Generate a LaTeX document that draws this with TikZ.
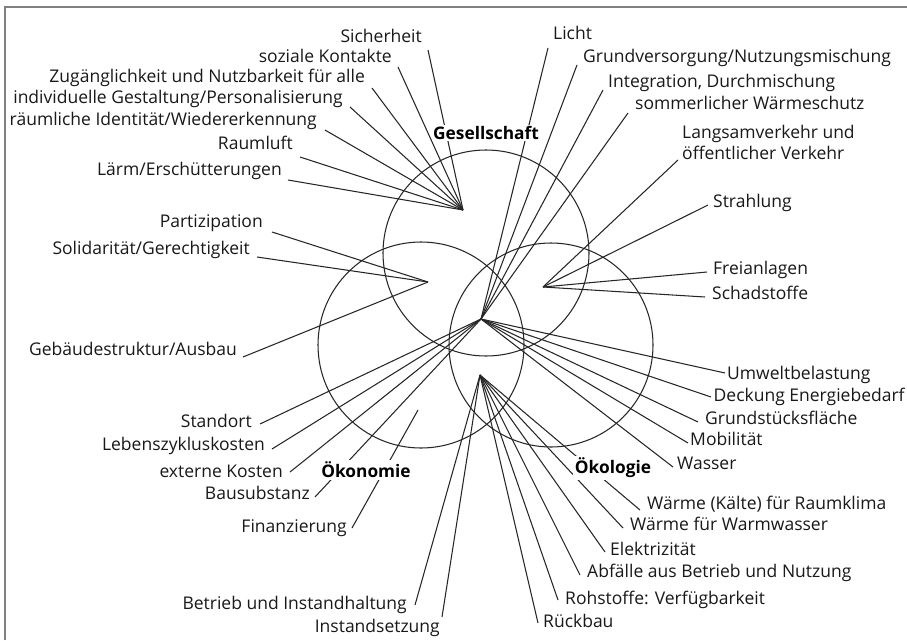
\documentclass[tikz,border=0pt]{standalone}
\usepackage{fontspec}
\newfontfamily\labfont{Open Sans}
\tikzset{
  lab/.style={font=\labfont\fontsize{17.5}{20}\selectfont, inner sep=0pt, text=black!90},
  labl/.style={lab, anchor=mid east},
  labr/.style={lab, anchor=mid west},
  head/.style={font=\labfont\bfseries\fontsize{17.3}{20}\selectfont, inner sep=1.5pt, fill=white},
  ray/.style={line width=1.05pt, black!85},
  ring/.style={line width=1.05pt, black!85},
  frame/.style={line width=2.2pt, black!50}
}
\begin{document}
\begin{tikzpicture}[x=1pt,y=-1pt]
\useasboundingbox (0,0) rectangle (907,640);
\fill[white] (0,0) rectangle (907,640);
\draw[frame] (5,640) -- (5,7) -- (907,7);
% circles
\draw[ring] (486,253) circle (103);
\draw[ring] (421,345) circle (103);
\draw[ring] (551,345) circle (102);
% hubs
\coordinate (hG) at (463,210);
\coordinate (hL) at (428,282);
\coordinate (hR) at (543,287);
\coordinate (hC) at (481,319);
\coordinate (hB) at (480,375);
\coordinate (finE) at (418,410);
% line start points
\coordinate (sichP) at (428,50);
\coordinate (sozP) at (398,67);
\coordinate (zugP) at (372,88);
\coordinate (indP) at (350,107);
\coordinate (rauP) at (325,130);
\coordinate (luftP) at (300,157);
\coordinate (laermP) at (288,180);
\coordinate (partP) at (272,232);
\coordinate (soliP) at (257,257);
\coordinate (gebP) at (243,357);
\coordinate (standP) at (260,424);
\coordinate (lebP) at (272,449);
\coordinate (extP) at (290,472);
\coordinate (bausP) at (315,497);
\coordinate (finP) at (352,528);
\coordinate (betrP) at (415,605);
\coordinate (instP) at (442,617);
\coordinate (lichtP) at (548,48);
\coordinate (grundP) at (577,65);
\coordinate (integP) at (603,90);
\coordinate (sommP) at (628,113);
\coordinate (langsP) at (678,160);
\coordinate (strahlP) at (708,205);
\coordinate (freiP) at (707,272);
\coordinate (schadP) at (705,297);
\coordinate (umwP) at (725,373);
\coordinate (deckP) at (711,397);
\coordinate (grstP) at (698,422);
\coordinate (mobP) at (688,443);
\coordinate (wassP) at (673,467);
\coordinate (wkP) at (640,510);
\coordinate (wwP) at (623,528);
\coordinate (elekP) at (605,552);
\coordinate (abfP) at (580,575);
\coordinate (rohP) at (558,600);
\coordinate (rueckP) at (538,623);
% rays
\foreach \p in {sichP,sozP,zugP,indP,rauP,luftP,laermP} \draw[ray] (\p) -- (hG);
\foreach \p in {partP,soliP,gebP} \draw[ray] (\p) -- (hL);
\foreach \p in {langsP,strahlP,freiP,schadP} \draw[ray] (\p) -- (hR);
\foreach \p in {standP,lebP,extP,bausP,lichtP,grundP,integP,sommP,umwP,deckP,grstP,mobP,wassP} \draw[ray] (\p) -- (hC);
\foreach \p in {betrP,instP,wkP,wwP,elekP,abfP,rohP,rueckP} \draw[ray] (\p) -- (hB);
\draw[ray] (finP) -- (finE);
% headings
\node[head] (ges) at (486,133) {Gesellschaft};
\node[head] (oekon) at (366,470) {Ökonomie};
\node[head] (oekol) at (613,468) {Ökologie};
% left labels
\node[labl] (sich) at (422,40) {Sicherheit};
\node[labl] (soz) at (392,60) {soziale Kontakte};
\node[labl] (zug) at (365,80) {Zugänglichkeit und Nutzbarkeit für alle};
\node[labl] (ind) at (343,101) {individuelle Gestaltung/Personalisierung};
\node[labl] (rau) at (317,123) {räumliche Identität/Wiedererkennung};
\node[labl] (luft) at (293,147) {Raumluft};
\node[labl] (laerm) at (282,173) {Lärm/Erschütterungen};
\node[labl] (part) at (263,225) {Partizipation};
\node[labl] (soli) at (250,252) {Solidarität/Gerechtigkeit};
\node[labl] (geb) at (237,353) {Gebäudestruktur/Ausbau};
\node[labl] (stand) at (252,425) {Standort};
\node[labl] (leb) at (265,448) {Lebenszykluskosten};
\node[labl] (ext) at (283,475) {externe Kosten};
\node[labl] (baus) at (310,497) {Bausubstanz};
\node[labl] (fin) at (347,530) {Finanzierung};
\node[labl] (betr) at (407,607) {Betrieb und Instandhaltung};
\node[labl] (inst) at (440,630) {Instandsetzung};
% right labels
\node[labr] (licht) at (553,37) {Licht};
\node[labr] (grund) at (583,60) {Grundversorgung/Nutzungsmischung};
\node[labr] (integ) at (608,85) {Integration, Durchmischung};
\node[labr] (somm) at (635,107) {sommerlicher Wärmeschutz};
\node[labr, align=left, font=\labfont\fontsize{17.5}{21}\selectfont] (langs) at (682,157.5) {Langsamverkehr und\\öffentlicher Verkehr};
\node[labr] (strahl) at (713,205) {Strahlung};
\node[labr] (frei) at (713,272) {Freianlagen};
\node[labr] (schad) at (712,297) {Schadstoffe};
\node[labr] (umw) at (727,377) {Umweltbelastung};
\node[labr] (deck) at (713.5,399) {Deckung Energiebedarf};
\node[labr] (grst) at (705,422) {Grundstücksfläche};
\node[labr] (mob) at (690,443) {Mobilität};
\node[labr] (wass) at (677,467) {Wasser};
\node[labr] (wk) at (647,507) {Wärme (Kälte) für Raumklima};
\node[labr] (ww) at (630,528) {Wärme für Warmwasser};
\node[labr] (elek) at (610,553) {Elektrizität};
\node[labr] (abf) at (587,575) {Abfälle aus Betrieb und Nutzung};
\node[labr] (roh) at (565,602) {Rohstoffe: Verfügbarkeit};
\node[labr] (rueck) at (543,625) {Rückbau};
\end{tikzpicture}
\end{document}
